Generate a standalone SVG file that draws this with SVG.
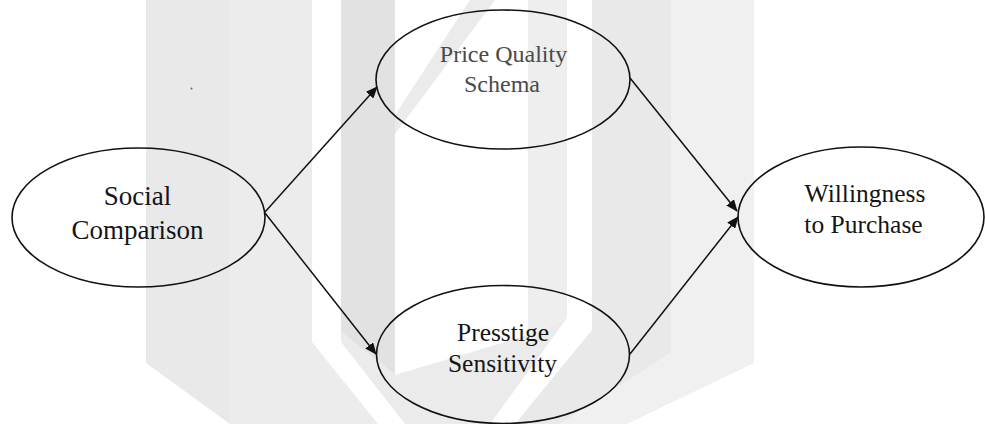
<svg xmlns="http://www.w3.org/2000/svg" width="985" height="424" viewBox="0 0 985 424">
  <style>
    .node { fill: none; stroke: #111; stroke-width: 1.6; }
    .label { font-family: "Liberation Serif", "Times New Roman", serif; fill: #151515; text-anchor: middle; }
    .soft { fill: #4a4a4a; }
    .edge { stroke: #111; stroke-width: 1.5; fill: none; marker-end: url(#head); }
  </style>
  <defs>
    <marker id="head" viewBox="0 0 12 10" refX="11" refY="5" markerWidth="12" markerHeight="10" markerUnits="userSpaceOnUse" orient="auto">
      <path d="M0,0 L12,5 L0,10 z" fill="#111"/>
    </marker>
  </defs>

  <rect width="985" height="424" fill="#ffffff"/>

  <!-- faint background emblem -->
  <g id="emblem">
    <polygon points="146,0 229,0 229,424 230,424 146,363" fill="#e9e9e9"/>
    <polygon points="229,0 312,0 312,342 378,424 229,424" fill="#ececec"/>
    <polygon points="341,0 395,0 395,375 341,332" fill="#e2e2e2"/>
    <polygon points="470,0 495,0 395,134 395,115" fill="#ebebeb"/>
    <polygon points="341,342 341,332 395,375 528,335 567,318 490,424 405,424" fill="#ebebeb"/>
    <polygon points="528,0 567,0 567,318 528,335" fill="#eeeeee"/>
    <polygon points="592,0 671,0 671,353 560,424 515,424 592,330" fill="#e9e9e9"/>
    <polygon points="671,0 754,0 754,363 627,424 560,424 671,353" fill="#f0f0f0"/>
  </g>

  <!-- connectors -->
  <g id="connectors">
    <line class="edge" x1="265" y1="212" x2="377" y2="87"/>
    <line class="edge" x1="265" y1="213" x2="376" y2="354"/>
    <line class="edge" x1="630" y1="78" x2="737" y2="211"/>
    <line class="edge" x1="630" y1="354" x2="738" y2="217"/>
  </g>

  <g id="social-comparison">
    <ellipse class="node" cx="138.5" cy="217.5" rx="126.5" ry="69.5"/>
    <text class="label" x="137.5" y="205" font-size="27">Social</text>
    <text class="label" x="137.5" y="239" font-size="27">Comparison</text>
  </g>

  <g id="price-quality-schema">
    <ellipse class="node" cx="503" cy="79.5" rx="127" ry="69.5"/>
    <text class="label soft" x="503.5" y="62" font-size="24">Price Quality</text>
    <text class="label soft" x="502" y="92" font-size="24">Schema</text>
  </g>

  <g id="presstige-sensitivity">
    <ellipse class="node" cx="503" cy="354.5" rx="126.5" ry="69"/>
    <text class="label" x="503" y="341" font-size="25.5">Presstige</text>
    <text class="label" x="502.5" y="372" font-size="25.5">Sensitivity</text>
  </g>

  <g id="willingness-to-purchase">
    <ellipse class="node" cx="861" cy="217" rx="123" ry="70"/>
    <text class="label" x="865" y="202" font-size="25.5">Willingness</text>
    <text class="label" x="863.5" y="233" font-size="25.5">to Purchase</text>
  </g>

  <circle cx="191.5" cy="88.5" r="1" fill="#666"/>
</svg>
